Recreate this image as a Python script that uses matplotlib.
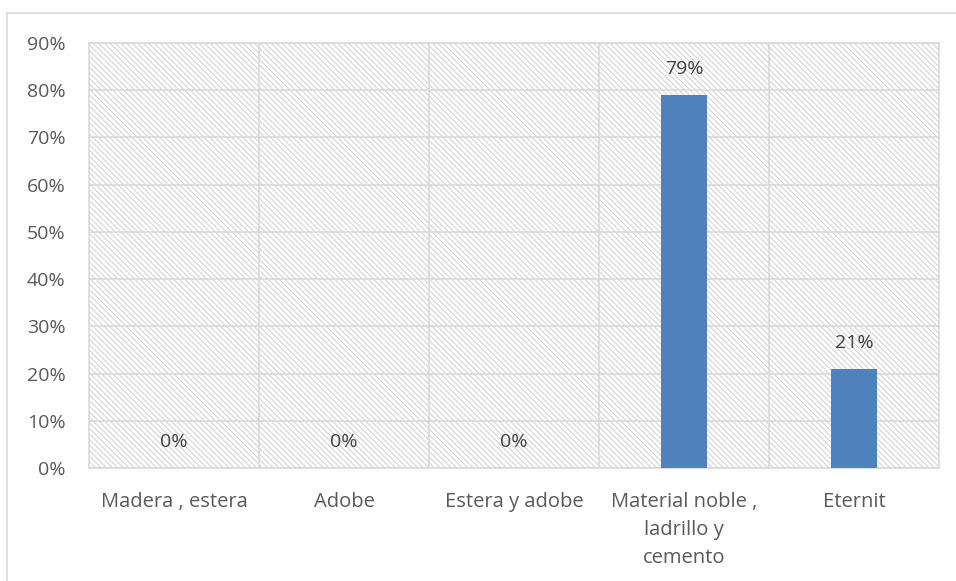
import matplotlib
matplotlib.use('Agg')
import matplotlib.pyplot as plt
from matplotlib.lines import Line2D
from matplotlib.ticker import MultipleLocator, PercentFormatter

# Datos
categorias = ['Madera , estera', 'Adobe', 'Estera y adobe',
              'Material noble ,\nladrillo y\ncemento', 'Eternit']
valores = [0, 0, 0, 79, 21]
etiquetas = ['0%', '0%', '0%', '79%', '21%']

W, H = 956, 581
fig = plt.figure(figsize=(W / 100, H / 100), dpi=100)
plt.rcParams['font.family'] = ['Open Sans', 'DejaVu Sans']
plt.rcParams['hatch.color'] = '#d4d4d4'
plt.rcParams['hatch.linewidth'] = 0.8

# area de trazado en pixeles: x 89-939, y 43-468
ax = fig.add_axes([89 / W, 1 - 468 / H, (939 - 89) / W, (468 - 43) / H])

ax.set_facecolor('white')
ax.add_patch(plt.Rectangle((0, 0), 1, 1, transform=ax.transAxes,
                           facecolor='none', edgecolor='#d4d4d4',
                           hatch='\\\\\\\\\\\\', linewidth=0, zorder=0))

x = list(range(len(categorias)))
ax.bar(x, valores, width=0.27, color='#4f81bd', zorder=3)

for xi, v, lab in zip(x, valores, etiquetas):
    ax.annotate(lab, (xi, v), xytext=(0, 18.5), textcoords='offset points',
                ha='center', va='center', fontsize=14, color='#404040')

ax.set_xlim(-0.5, len(categorias) - 0.5)
ax.set_ylim(0, 90)
ax.yaxis.set_major_locator(MultipleLocator(10))
ax.yaxis.set_major_formatter(PercentFormatter(decimals=0))

# lineas de cuadricula
ax.grid(axis='y', color='#d9d9d9', linewidth=1.2, zorder=1)
for b in [0.5, 1.5, 2.5, 3.5]:
    ax.axvline(b, color='#d9d9d9', linewidth=1.2, zorder=1)

ax.set_xticks(x)
ax.set_xticklabels(categorias, fontsize=14.5, color='#595959', linespacing=1.56,
                   va='top')
ax.tick_params(axis='x', length=0, pad=17)
ax.tick_params(axis='y', length=0, pad=17, labelsize=14, labelcolor='#595959')
for lbl in ax.get_yticklabels():
    lbl.set_horizontalalignment('right')

for s in ax.spines.values():
    s.set_color('#d9d9d9')
    s.set_linewidth(1.2)

# borde exterior del grafico
fig.add_artist(Line2D([7 / W, 1], [1 - 13 / H, 1 - 13 / H],
                      transform=fig.transFigure, color='#d9d9d9', lw=1.2))
fig.add_artist(Line2D([7 / W, 7 / W], [0, 1 - 13 / H],
                      transform=fig.transFigure, color='#d9d9d9', lw=1.2))

fig.savefig('out.png', dpi=100)
